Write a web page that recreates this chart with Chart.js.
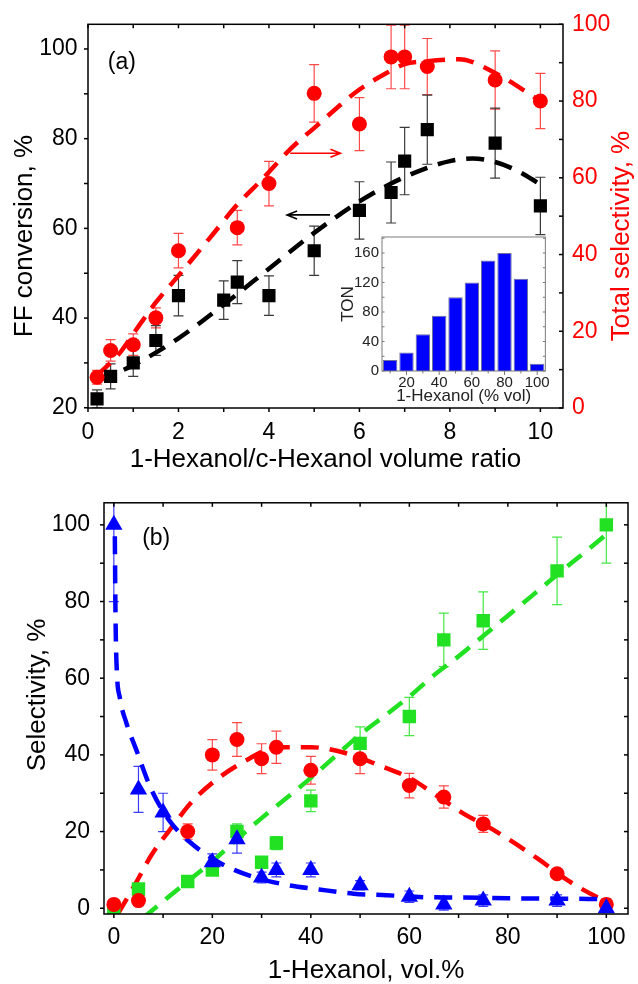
<!DOCTYPE html>
<html>
<head>
<meta charset="utf-8">
<title>FF conversion and selectivity vs 1-hexanol</title>
<script src="https://cdn.jsdelivr.net/npm/chart.js@4.4.1/dist/chart.umd.min.js"></script>
<style>
  html, body { margin: 0; padding: 0; background: #fff; }
  #page { position: relative; width: 638px; height: 984px; overflow: hidden; }
  #page canvas { position: absolute; }
</style>
</head>
<body>
<div id="page">
  <canvas id="chartA" width="638" height="475" style="left:0;top:0"></canvas>
  <canvas id="chartB" width="638" height="509" style="left:0;top:475px"></canvas>
  <canvas id="inset" width="215" height="181" style="left:338px;top:225px"></canvas>
</div>
<script>
Chart.defaults.font.family = '"Liberation Sans", Arial, sans-serif';
Chart.defaults.color = '#000';

// ---- panel (a): volume ratio 1-hexanol / c-hexanol ----
const ratioConv = [0.2, 0.5, 1, 1.5, 2, 3, 3.3, 4, 5, 6, 6.7, 7, 7.5, 9, 10];
const convValues = [22, 27, 30, 35, 45, 44, 48, 45, 55, 64, 68, 75, 82, 79, 65];
const convErrors = [2, 2.8, 3, 3.3, 4.5, 4.3, 4.8, 4.4, 5.5, 6.4, 6.8, 7.5, 7.7, 7.8, 6.4];

const ratioSel = [0.2, 0.5, 1, 1.5, 2, 3.3, 4, 5, 6, 6.7, 7, 7.5, 9, 10];
const selValues = [8, 15, 16.5, 23.5, 41, 47, 58.5, 82, 74, 91.5, 91.5, 89, 85.5, 80];
const selErrors = [1.8, 2.8, 2.8, 2.6, 4.5, 4.5, 5.8, 7.5, 6.9, 8.3, 8.3, 7.3, 7.6, 7.2];

// dashed guide curves of panel (a)
const convFitX = [0.2, 1, 2, 3, 4, 5, 6, 6.7, 7.5, 8, 8.5, 9, 9.5, 10];
const convFitY = [26, 29.5, 35.5, 43, 51, 59, 66, 70, 73.5, 75, 75.6, 74.8, 72.8, 69.8];
const selFitX = [0.2, 0.7, 1.04, 1.5, 2, 2.7, 3.3, 3.8, 4.5, 5.1, 5.5, 6, 6.6, 7, 7.5, 8.2, 9, 10];
const selFitY = [8.5, 14.3, 20, 27.5, 34.5, 44.4, 53, 59, 67.8, 74, 78.2, 83, 87.3, 89.6, 90.4, 90.9, 87.3, 80];

// ---- inset: TON ----
const tonLabels = ['10', '20', '30', '40', '50', '60', '70', '80', '90', '100'];
const tonValues = [15, 25, 50, 75, 100, 120, 150, 160, 125, 10];

// ---- panel (b): selectivity vs 1-hexanol vol.% ----
const pctTriangles = [0, 5, 10, 20, 25, 30, 33, 40, 50, 60, 67, 75, 90, 100];
const selTriangles = [100, 31, 25, 12, 18, 8, 10, 10, 6, 3, 1, 2, 2, 0];
const errTriangles = [20, 6, 5, 2.2, 3.6, 1.4, 1.8, 1.8, 1.2, 1.5, 1.5, 1.5, 1.5, 1];

const pctCircles = [0, 5, 15, 20, 25, 30, 33, 40, 50, 60, 67, 75, 90, 100];
const selCircles = [1, 2, 20, 40, 44, 39, 42, 36, 39, 32, 29, 22, 9, 1];
const errCircles = [0.3, 0.3, 2, 4, 4.4, 3.9, 4.2, 3.6, 3.9, 3.2, 2.9, 2.2, 0.9, 1.5];

const pctSquares = [0, 5, 15, 20, 25, 30, 33, 40, 50, 60, 67, 75, 90, 100];
const selSquares = [0, 5, 7, 10, 20, 12, 17, 28, 43, 50, 70, 75, 88, 100];
const errSquares = [0, 0.5, 0.7, 1, 2, 1.2, 1.7, 2.8, 4.3, 5, 7, 7.5, 8.8, 10];

const triFitX = [0.2, 0.35, 0.6, 1.2, 2.5, 4.5, 7.6, 11.2, 15.3, 22, 28, 34.7, 41.7, 48.7, 55.4, 62.8, 70.5, 80, 90, 100];
const triFitY = [97, 75, 62, 55, 48.5, 41.5, 31, 23, 17.4, 11.5, 8.3, 6.2, 4.9, 3.8, 3.4, 2.9, 2.8, 2.6, 2.5, 2.4];
const circFitX = [0.8, 4, 7.7, 11.7, 16, 21, 26.8, 33, 40, 47, 54, 60, 66, 71, 77, 86, 92.5, 98, 100];
const circFitY = [-1.5, 5.5, 14, 21, 28, 33.7, 38.5, 42, 42, 40.5, 37.2, 34, 29, 24.7, 20.5, 13, 7, 3, 2];
const sqFitX = [6, 10, 15, 20, 25, 30, 35, 40, 45, 50, 55, 60, 65, 70, 75, 80, 85, 90, 95, 100];
const sqFitY = [-2.5, 1.8, 7, 12.2, 18, 23.5, 28.7, 34, 39.7, 45.3, 50.2, 55.2, 60.8, 65.7, 71, 76.3, 81.6, 87, 92.2, 97.5];

function points(xs, ys) {
    return xs.map((x, i) => ({x: x, y: ys[i]}));
}

const TICK_FONT = {size: 23};
const TITLE_FONT = {size: 26, lineHeight: 1};

// box around the plot + Origin-like tick marks
const frameTicks = {
    id: 'frameTicks',
    afterDraw(chart, args, opts) {
        const ctx = chart.ctx;
        const a = chart.chartArea;
        ctx.save();
        ctx.strokeStyle = opts.color;
        ctx.lineWidth = opts.width;
        ctx.strokeRect(a.left, a.top, a.right - a.left, a.bottom - a.top);
        (opts.marks || []).forEach(m => {
            const s = chart.scales[m.axis];
            const k0 = Math.ceil(s.min / m.step - 1e-6);
            const k1 = Math.floor(s.max / m.step + 1e-6);
            for (let k = k0; k <= k1; k++) {
                const len = ((k + (m.shift || 0)) % m.every === 0) ? opts.major : opts.minor;
                const p = s.getPixelForValue(k * m.step);
                const d = m.out ? len : -len;
                ctx.beginPath();
                if (m.side === 'bottom') { ctx.moveTo(p, a.bottom); ctx.lineTo(p, a.bottom + d); }
                if (m.side === 'top') { ctx.moveTo(p, a.top); ctx.lineTo(p, a.top - d); }
                if (m.side === 'left') { ctx.moveTo(a.left, p); ctx.lineTo(a.left - d, p); }
                if (m.side === 'right') { ctx.moveTo(a.right, p); ctx.lineTo(a.right + d, p); }
                ctx.stroke();
            }
        });
        ctx.restore();
    }
};

// vertical error bars with caps, read from dataset.errors
const errorBars = {
    id: 'errorBars',
    beforeDatasetsDraw(chart) {
        const ctx = chart.ctx;
        const a = chart.chartArea;
        ctx.save();
        ctx.beginPath();
        ctx.rect(a.left, a.top, a.right - a.left, a.bottom - a.top);
        ctx.clip();
        chart.data.datasets.forEach(ds => {
            if (!ds.errors) return;
            const xs = chart.scales.x;
            const ys = chart.scales[ds.yAxisID || 'y'];
            ctx.strokeStyle = ds.errorColor;
            ctx.lineWidth = 1.2;
            ds.data.forEach((pt, j) => {
                const e = ds.errors[j];
                if (!e) return;
                const x = xs.getPixelForValue(pt.x);
                const yTop = ys.getPixelForValue(pt.y + e);
                const yBot = ys.getPixelForValue(pt.y - e);
                ctx.beginPath();
                ctx.moveTo(x, yTop); ctx.lineTo(x, yBot);
                ctx.moveTo(x - 5, yTop); ctx.lineTo(x + 5, yTop);
                ctx.moveTo(x - 5, yBot); ctx.lineTo(x + 5, yBot);
                ctx.stroke();
            });
        });
        ctx.restore();
    }
};

// free text (panel letters, rotated y titles) and the two arrows of panel (a)
const decorations = {
    id: 'decorations',
    afterDraw(chart, args, opts) {
        const ctx = chart.ctx;
        (opts.texts || []).forEach(t => {
            let x = t.x, y = t.y;
            if (t.scaleX) {
                x = chart.scales[t.scaleX].getPixelForValue(t.x);
                y = chart.scales[t.scaleY].getPixelForValue(t.y);
            }
            ctx.save();
            ctx.font = t.font;
            ctx.fillStyle = t.color;
            ctx.textAlign = 'center';
            ctx.textBaseline = 'middle';
            ctx.translate(x, y);
            ctx.rotate(t.rotate || 0);
            ctx.fillText(t.text, 0, 0);
            ctx.restore();
        });
        (opts.arrows || []).forEach(ar => {
            const xs = chart.scales.x;
            const ys = chart.scales[ar.axis];
            const x1 = xs.getPixelForValue(ar.from);
            const x2 = xs.getPixelForValue(ar.to);
            const y = ys.getPixelForValue(ar.y);
            const dir = Math.sign(x2 - x1);
            ctx.save();
            ctx.strokeStyle = ar.color;
            ctx.lineWidth = 1.6;
            ctx.beginPath();
            ctx.moveTo(x1, y); ctx.lineTo(x2, y);
            ctx.moveTo(x2 - dir * 10, y - 4); ctx.lineTo(x2, y); ctx.lineTo(x2 - dir * 10, y + 4);
            ctx.stroke();
            ctx.restore();
        });
    }
};

function dashed(xs, ys, color, axis, order) {
    return {
        data: points(xs, ys),
        yAxisID: axis,
        showLine: true,
        fill: false,
        pointRadius: 0,
        borderColor: color,
        borderWidth: 4.5,
        borderDash: [18, 11],
        cubicInterpolationMode: 'monotone',
        order: order
    };
}

function markers(xs, ys, errs, style, radius, color, errColor, axis, order) {
    return {
        data: points(xs, ys),
        yAxisID: axis,
        errors: errs,
        errorColor: errColor,
        pointStyle: style,
        pointRadius: radius,
        pointBorderWidth: 0,
        backgroundColor: color,
        borderColor: color,
        order: order
    };
}

// ===== panel (a) =====
const chartA = new Chart(document.getElementById('chartA'), {
    type: 'scatter',
    data: {
        datasets: [
            markers(ratioSel, selValues, selErrors, 'circle', 7.5, '#ff0000', '#ff4a4a', 'y2', 1),
            markers(ratioConv, convValues, convErrors, 'rect', 9.3, '#000000', '#3a3a3a', 'y', 2),
            dashed(selFitX, selFitY, '#ff0000', 'y2', 3),
            dashed(convFitX, convFitY, '#000000', 'y', 4)
        ]
    },
    options: {
        responsive: false,
        animation: false,
        layout: {padding: {top: 23, left: 0, right: 0, bottom: 0}},
        plugins: {
            legend: {display: false},
            tooltip: {enabled: false},
            frameTicks: {
                color: '#000', width: 1.5, major: 7, minor: 4,
                marks: [
                    {axis: 'x', side: 'bottom', step: 1, every: 2, out: true},
                    {axis: 'x', side: 'top', step: 1, every: 2, out: false},
                    {axis: 'y', side: 'left', step: 10, every: 2, out: true},
                    {axis: 'y2', side: 'right', step: 10, every: 2, out: false}
                ]
            },
            decorations: {
                texts: [
                    {text: '(a)', x: 0.75, y: 97, scaleX: 'x', scaleY: 'y', font: '23px "Liberation Sans", Arial', color: '#000'},
                    {text: 'FF conversion, %', x: 25, y: 236, rotate: -Math.PI / 2, font: '26px "Liberation Sans", Arial', color: '#000'},
                    {text: 'Total selectivity, %', x: 622, y: 236, rotate: -Math.PI / 2, font: '26px "Liberation Sans", Arial', color: '#ff0000'}
                ],
                arrows: [
                    {from: 4.47, to: 5.58, y: 66.4, axis: 'y2', color: '#ff0000'},
                    {from: 5.35, to: 4.4, y: 63, axis: 'y', color: '#000000'}
                ]
            }
        },
        scales: {
            x: {
                type: 'linear', position: 'bottom', min: 0, max: 10.5,
                afterFit: s => { s.height = 67; },
                grid: {display: false, drawTicks: false},
                border: {display: false},
                ticks: {stepSize: 2, includeBounds: false, padding: 11, font: TICK_FONT, color: '#000'},
                title: {display: true, text: '1-Hexanol/c-Hexanol volume ratio', font: TITLE_FONT, color: '#000', padding: {top: 0, bottom: 2}}
            },
            y: {
                type: 'linear', position: 'left', min: 19.95, max: 105.5,
                afterFit: s => { s.width = 88; },
                grid: {display: false, drawTicks: false},
                border: {display: false},
                ticks: {stepSize: 20, includeBounds: false, padding: 10.5, font: TICK_FONT, color: '#000'}
            },
            y2: {
                type: 'linear', position: 'right', min: 0, max: 100,
                afterFit: s => { s.width = 75; },
                grid: {display: false, drawTicks: false},
                border: {display: false},
                ticks: {stepSize: 20, includeBounds: false, padding: 9, font: TICK_FONT, color: '#ff0000'}
            }
        }
    },
    plugins: [errorBars, frameTicks, decorations]
});

// ===== inset: TON bars =====
const inset = new Chart(document.getElementById('inset'), {
    type: 'bar',
    data: {
        labels: tonLabels,
        datasets: [{
            data: tonValues,
            backgroundColor: '#0000ff',
            borderColor: '#6f6f9a',
            borderWidth: 1,
            barPercentage: 0.88,
            categoryPercentage: 1
        }]
    },
    options: {
        responsive: false,
        animation: false,
        layout: {padding: {top: 12, right: 6, left: 0, bottom: 0}},
        plugins: {
            legend: {display: false},
            tooltip: {enabled: false},
            frameTicks: {
                color: '#7a7a7a', width: 1, major: 4, minor: 2.5,
                marks: [
                    {axis: 'x', side: 'bottom', step: 1, every: 2, shift: 1, out: true},
                    {axis: 'y', side: 'left', step: 20, every: 2, out: false},
                    {axis: 'y', side: 'right', step: 20, every: 2, out: false}
                ]
            }
        },
        scales: {
            x: {
                afterFit: s => { s.height = 35; },
                grid: {display: false, drawTicks: false},
                border: {display: false},
                ticks: {
                    autoSkip: false, maxRotation: 0, padding: 3, font: {size: 15}, color: '#222',
                    callback: (v, i) => (i % 2 === 1 ? tonLabels[i] : '')
                },
                title: {display: true, text: '1-Hexanol (% vol)', font: {size: 17, lineHeight: 1}, color: '#222', padding: {top: 0, bottom: 1}}
            },
            y: {
                min: 0, max: 181.7,
                afterFit: s => { s.width = 44; },
                grid: {display: false, drawTicks: false},
                border: {display: false},
                ticks: {stepSize: 40, includeBounds: false, padding: 3, font: {size: 15}, color: '#222'},
                title: {display: true, text: 'TON', font: {size: 17, lineHeight: 1}, color: '#222', padding: {top: 2, bottom: 0}}
            }
        }
    },
    plugins: [frameTicks]
});

// ===== panel (b) =====
const chartB = new Chart(document.getElementById('chartB'), {
    type: 'scatter',
    data: {
        datasets: [
            markers(pctTriangles, selTriangles, errTriangles, 'triangle', 10, '#0000ff', '#3b3bff', 'y', 1),
            markers(pctCircles, selCircles, errCircles, 'circle', 7.5, '#ff0000', '#ff4a4a', 'y', 2),
            markers(pctSquares, selSquares, errSquares, 'rect', 9.5, '#22e022', '#44e844', 'y', 3),
            dashed(triFitX, triFitY, '#0000ff', 'y', 4),
            dashed(circFitX, circFitY, '#ff0000', 'y', 5),
            dashed(sqFitX, sqFitY, '#22e022', 'y', 6)
        ]
    },
    options: {
        responsive: false,
        animation: false,
        layout: {padding: {top: 10, left: 0, right: 4, bottom: 0}},
        plugins: {
            legend: {display: false},
            tooltip: {enabled: false},
            frameTicks: {
                color: '#000', width: 1.5, major: 7, minor: 4,
                marks: [
                    {axis: 'x', side: 'bottom', step: 10, every: 2, out: true},
                    {axis: 'x', side: 'top', step: 10, every: 2, out: false},
                    {axis: 'y', side: 'left', step: 10, every: 2, out: true},
                    {axis: 'y', side: 'right', step: 10, every: 2, out: false}
                ]
            },
            decorations: {
                texts: [
                    {text: '(b)', x: 8.6, y: 96.3, scaleX: 'x', scaleY: 'y', font: '23px "Liberation Sans", Arial', color: '#000'},
                    {text: 'Selectivity, %', x: 38, y: 220, rotate: -Math.PI / 2, font: '26px "Liberation Sans", Arial', color: '#000'}
                ]
            }
        },
        scales: {
            x: {
                type: 'linear', position: 'bottom', min: -2, max: 104.4,
                afterFit: s => { s.height = 70; },
                grid: {display: false, drawTicks: false},
                border: {display: false},
                ticks: {stepSize: 20, includeBounds: false, padding: 10, font: TICK_FONT, color: '#000'},
                title: {display: true, text: '1-Hexanol, vol.%', font: TITLE_FONT, color: '#000', padding: {top: 0, bottom: 0}}
            },
            y: {
                type: 'linear', position: 'left', min: -1.5, max: 105.75,
                afterFit: s => { s.width = 104; },
                grid: {display: false, drawTicks: false},
                border: {display: false},
                ticks: {stepSize: 20, includeBounds: false, padding: 14, font: TICK_FONT, color: '#000'}
            }
        }
    },
    plugins: [errorBars, frameTicks, decorations]
});
</script>
</body>
</html>
